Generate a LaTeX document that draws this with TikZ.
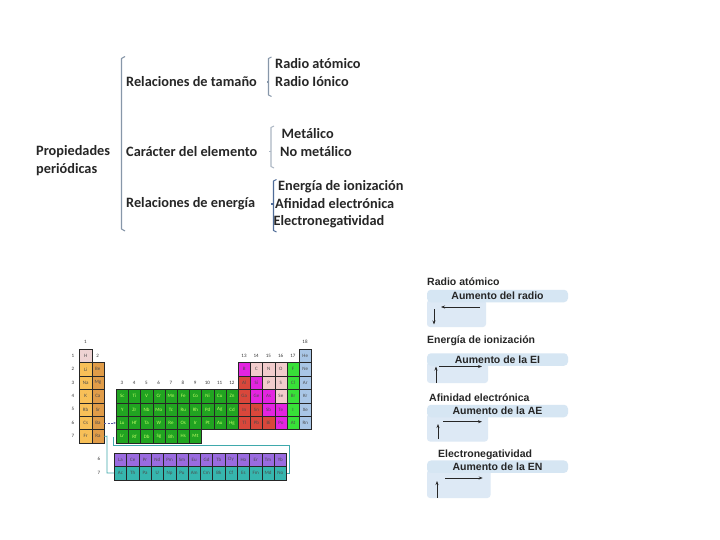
\documentclass[tikz,border=0pt]{standalone}
\usepackage{fontspec}
\setmainfont{Carlito}
\newfontfamily\rf{Liberation Sans}
\usetikzlibrary{arrows.meta}
\definecolor{brkc}{HTML}{8797A9}
\definecolor{brkd}{HTML}{4F6C98}
\definecolor{hcol}{HTML}{EED3D3}
\definecolor{g1col}{HTML}{F8C058}
\definecolor{g2col}{HTML}{E09C48}
\definecolor{dcol}{HTML}{21A421}
\definecolor{mgcol}{HTML}{E324E0}
\definecolor{pkcol}{HTML}{F2CCCC}
\definecolor{grcol}{HTML}{38E038}
\definecolor{rdcol}{HTML}{D9473B}
\definecolor{blcol}{HTML}{A9C6E6}
\definecolor{lncol}{HTML}{9A6BE0}
\definecolor{accol}{HTML}{36B6AE}
\definecolor{tealc}{HTML}{3FA9AC}
\definecolor{barc}{HTML}{D6E6F3}
\definecolor{boxc}{HTML}{DDE9F5}
\tikzset{
  mtext/.style={font=\fontsize{14.3}{16}\selectfont\bfseries, text=black!85, anchor=west, inner sep=0},
  brk/.style={draw=brkc, line width=1.1pt, line join=round},
  pt/.style={draw=black!85, line width=0.5pt, minimum width=12.2pt, minimum height=13.4pt,
    inner sep=0, anchor=north west, font=\fontsize{5}{5.5}\selectfont, text=black!70},
  cH/.style={fill=hcol}, cA/.style={fill=g1col}, cB/.style={fill=g2col},
  cD/.style={fill=dcol, text=green!40!yellow!60}, cM/.style={fill=mgcol}, cP/.style={fill=pkcol},
  cG/.style={fill=grcol}, cR/.style={fill=rdcol}, cN/.style={fill=blcol},
  cL/.style={fill=lncol}, cT/.style={fill=accol},
  lab/.style={font=\fontsize{5}{5.5}\selectfont, inner sep=0, text=black!80},
  head/.style={font=\rf\fontsize{10.5}{12}\selectfont\bfseries, text=black!85, anchor=west, inner sep=0},
  barst/.style={fill=barc, rounded corners=4pt, minimum width=141pt, minimum height=12.5pt, inner sep=0,
    font=\rf\fontsize{10.5}{12}\selectfont\bfseries, text=black!85},
  boxst/.style={fill=boxc, rounded corners=3pt},
  arr/.style={draw=black!85, line width=0.8pt, -{Stealth[length=4pt,width=3pt]}}
}
\newcommand\pcell[4]{%
  \pgfmathsetmacro\sl{#1<3 ? #1-1 : #1}%
  \node[pt,#3] (el-#4) at ({79.3+\sl*12.2},{349+(#2-1)*13.4}) {#4};}
\begin{document}
\begin{tikzpicture}[x=1pt,y=-1pt]
\useasboundingbox[fill=white] (0,0) rectangle (720,540);

% ---------- concept map ----------
\node[mtext] (pp) at (36,152) {Propiedades};
\node[mtext] (pp2) at (36,170) {periódicas};
\draw[brk] (125,56.5) -- (121.5,58.5) -- (121.5,229) -- (125,231);

\node[mtext] (rt) at (126,82) {Relaciones de tamaño};
\node[mtext] (ce) at (126,151.5) {Carácter del elemento};
\node[mtext] (re) at (126,204) {Relaciones de energía};

\draw[brk] (271.5,57) -- (268.5,58.5) -- (268.5,95) -- (271.5,96.5);
\draw[brk] (268.5,82) -- (266.5,82);
\draw[brk,draw=brkc!70] (274,126) -- (271,127.5) -- (271,166.5) -- (274,168);
\draw[brk,draw=brkc!70] (271,151.5) -- (269,151.5);
\draw[brk,draw=brkd] (276.5,179.5) -- (273.5,181) -- (273.5,230.5) -- (276.5,232);
\draw[brk,draw=brkd] (273.5,204) -- (271,204);

\node[mtext] (ra) at (275,64) {Radio atómico};
\node[mtext] (ri) at (275,82) {Radio Iónico};
\node[mtext] (me) at (281.5,134) {Metálico};
\node[mtext] (nm) at (280,151.5) {No metálico};
\node[mtext] (ei) at (278,186.5) {Energía de ionización};
\node[mtext] (ae) at (275,204) {Afinidad electrónica};
\node[mtext] (en) at (273.5,221.5) {Electronegatividad};

% ---------- periodic table ----------
\pcell{1}{1}{cH}{H}
\foreach \s [count=\i from 2] in {Li,Na,K,Rb,Cs,Fr} {\pcell{1}{\i}{cA}{\s}}
\foreach \s [count=\i from 2] in {Be,Mg,Ca,Sr,Ba,Ra} {\pcell{2}{\i}{cB}{\s}}
\foreach \s [count=\i from 3] in {Sc,Ti,V,Cr,Mn,Fe,Co,Ni,Cu,Zn} {\pcell{\i}{4}{cD}{\s}}
\foreach \s [count=\i from 3] in {Y,Zr,Nb,Mo,Tc,Ru,Rh,Pd,Ag,Cd} {\pcell{\i}{5}{cD}{\s}}
\foreach \s [count=\i from 3] in {Lu,Hf,Ta,W,Re,Os,Ir,Pt,Au,Hg} {\pcell{\i}{6}{cD}{\s}}
\foreach \s [count=\i from 3] in {Lr,Rf,Db,Sg,Bh,Hs,Mt} {\pcell{\i}{7}{cD}{\s}}
\pcell{18}{1}{cN}{He}
\foreach \s/\st [count=\i from 13] in {B/cM,C/cP,N/cP,O/cP,F/cG,Ne/cN} {\pcell{\i}{2}{\st}{\s}}
\foreach \s/\st [count=\i from 13] in {Al/cR,Si/cM,P/cP,S/cP,Cl/cG,Ar/cN} {\pcell{\i}{3}{\st}{\s}}
\foreach \s/\st [count=\i from 13] in {Ga/cR,Ge/cM,As/cM,Se/cP,Br/cG,Kr/cN} {\pcell{\i}{4}{\st}{\s}}
\foreach \s/\st [count=\i from 13] in {In/cR,Sn/cR,Sb/cM,Te/cM,I/cG,Xe/cN} {\pcell{\i}{5}{\st}{\s}}
\foreach \s/\st [count=\i from 13] in {Tl/cR,Pb/cR,Bi/cR,Po/cM,At/cG,Rn/cN} {\pcell{\i}{6}{\st}{\s}}
\foreach \s [count=\i from 0] in {La,Ce,Pr,Nd,Pm,Sm,Eu,Gd,Tb,Dy,Ho,Er,Tm,Yb}
  {\node[pt,cL,minimum width=12.3pt,minimum height=13.5pt] (el-\s) at ({114+\i*12.3},452.5) {\s};}
\foreach \s [count=\i from 0] in {Ac,Th,Pa,U,Np,Pu,Am,Cm,Bk,Cf,Es,Fm,Md,No}
  {\node[pt,cT,minimum width=12.3pt,minimum height=13.5pt] (el-\s) at ({114+\i*12.3},466) {\s};}

% labels
\node[lab] (g1) at (85.4,342) {1};
\node[lab] (g2) at (97.6,355.5) {2};
\foreach \n [count=\i from 3] in {3,...,12} {\node[lab] (gl\n) at ({79.3+\i*12.2+6.1},383) {\n};}
\foreach \n [count=\i from 13] in {13,...,17} {\node[lab] (gl\n) at ({79.3+\i*12.2+6.1},355.5) {\n};}
\node[lab] (g18) at (305,342) {18};
\foreach \r in {1,...,7} {\node[lab] (p\r) at (73,{349+(\r-0.5)*13.4}) {\r};}
\node[lab] (f6) at (99,459) {6};
\node[lab] (f7) at (99,473) {7};

% connectors in table
\draw[draw=gray!70!blue, line width=0.6pt, dashed, dash pattern=on 2pt off 1.5pt,
  -{Stealth[length=2.5pt,width=2pt]}] (el-Ba.east) -- (el-Lu.west);
\coordinate (tA) at (107,436.1);
\coordinate (tB) at (113,437);
\draw[draw=tealc, line width=0.7pt] (el-Ra.east) -- (tA) |- (el-Ac.west);
\draw[draw=tealc, line width=0.7pt] (tB) -- (113,445) -- (289,445) |- (el-No.east);

% ---------- right panel ----------
\node[head] (h1) at (427,282) {Radio atómico};
\fill[boxst] (427,300) rectangle (486,327);
\node[barst] (b1) at (497.5,296) {Aumento del radio};
\coordinate (a1s) at (480,307); \coordinate (a1e) at (441,307);
\coordinate (v1s) at (434,309); \coordinate (v1e) at (434,324.5);
\draw[arr] (a1s) -- (a1e);
\draw[arr] (v1s) -- (v1e);

\node[head] (h2) at (427,340.5) {Energía de ionización};
\fill[boxst] (427,362) rectangle (488,383);
\node[barst] (b2) at (497.5,359.5) {Aumento de la EI};
\coordinate (a2s) at (439,366.5); \coordinate (a2e) at (482,366.5);
\coordinate (v2s) at (436,382.5); \coordinate (v2e) at (436,366.5);
\draw[arr] (a2s) -- (a2e);
\draw[arr] (v2s) -- (v2e);

\node[head] (h3) at (429,398) {Afinidad electrónica};
\fill[boxst] (427,414) rectangle (488,441.5);
\node[barst] (b3) at (497.5,411) {Aumento de la AE};
\coordinate (a3s) at (443,421.7); \coordinate (a3e) at (482,421.7);
\coordinate (v3s) at (438,439); \coordinate (v3e) at (438,424);
\draw[arr] (a3s) -- (a3e);
\draw[arr] (v3s) -- (v3e);

\node[head] (h4) at (438,455) {Electronegatividad};
\fill[boxst] (427,470) rectangle (490.5,498);
\node[barst] (b4) at (497.5,466.7) {Aumento de la EN};
\coordinate (a4s) at (445,478); \coordinate (a4e) at (482.7,478);
\coordinate (v4s) at (437,497.5); \coordinate (v4e) at (437,481);
\draw[arr] (a4s) -- (a4e);
\draw[arr] (v4s) -- (v4e);
\end{tikzpicture}
\end{document}
